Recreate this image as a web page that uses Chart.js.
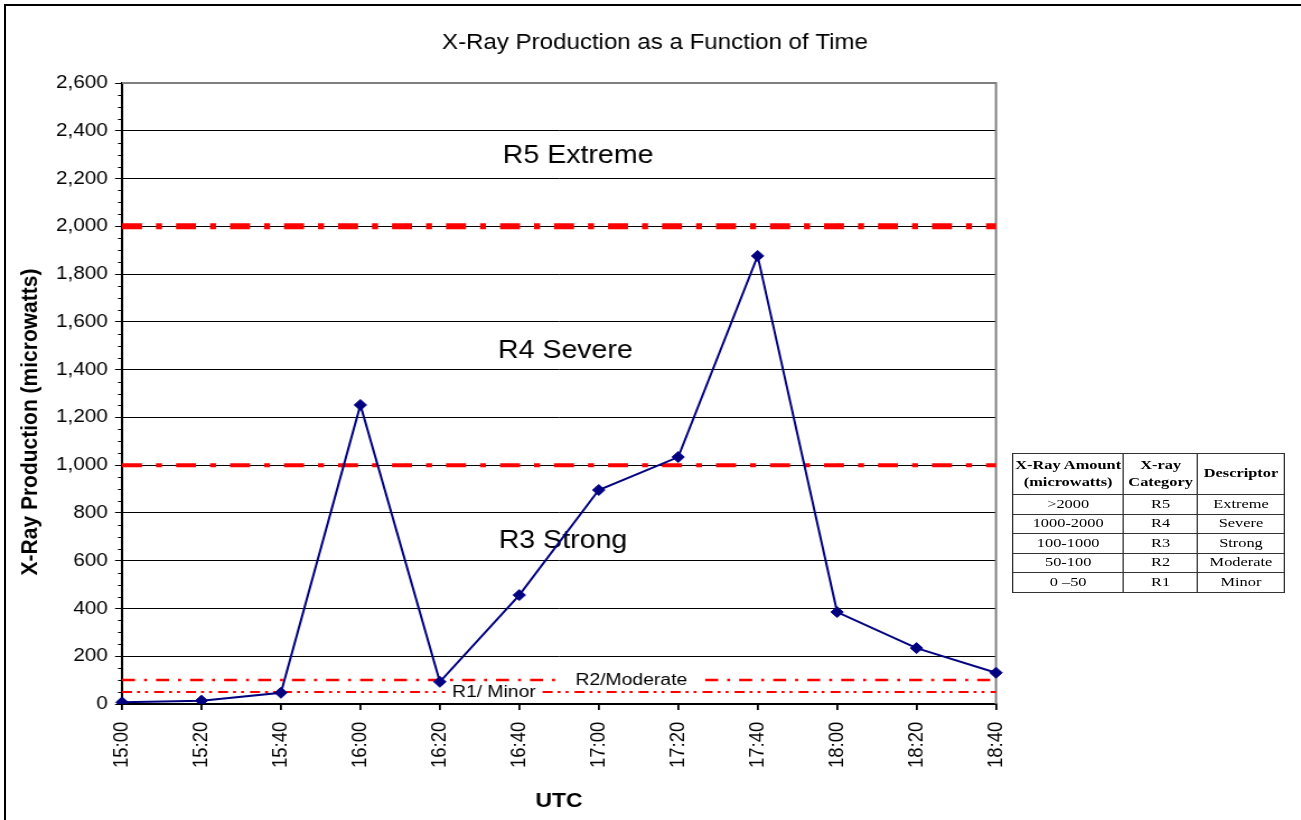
<!DOCTYPE html>
<html>
<head>
<meta charset="utf-8">
<script src="https://cdn.jsdelivr.net/npm/chart.js@4.4.1/dist/chart.umd.min.js"></script>
<style>
  html, body { margin: 0; padding: 0; background: #fff; }
  body { width: 1301px; height: 820px; overflow: hidden; position: relative; }
  #frame { position: absolute; left: 4px; top: 4px; width: 1300px; height: 820px;
           border-top: 2px solid #000; border-left: 2px solid #000; }
  /* the original picture is stretched sideways, so the chart is drawn narrow and widened */
  #stage { position: absolute; left: 0; top: 0; width: 1162px; height: 820px;
           transform-origin: 0 0; transform: scaleX(1.1196); }
  #chart { position: absolute; left: 0; top: 0; }
  #rtable { position: absolute; left: 1012px; top: 453px; width: 209px; table-layout: fixed;
            border-collapse: collapse; transform-origin: 0 0; transform: scaleX(1.3);
            font-family: 'Liberation Serif', 'Times New Roman', serif; font-size: 12.6px; color: #000; }
  #rtable td, #rtable th { border: 1px solid #333; text-align: center; padding: 0; }
  #rtable th { font-weight: bold; line-height: 17.5px; height: 40px; }
  #rtable td { height: 18.5px; line-height: 17px; }
</style>
</head>
<body>
<div id="frame"></div>
<div id="stage">
  <canvas id="chart" width="1162" height="820"></canvas>
</div>
<table id="rtable">
  <colgroup><col style="width:85.4px"><col style="width:56.9px"><col style="width:66.7px"></colgroup>
  <thead><tr id="thead"></tr></thead>
  <tbody id="tbody"></tbody>
</table>
<script>
const times = ['15:00', '15:20', '15:40', '16:00', '16:20', '16:40', '17:00', '17:20', '17:40', '18:00', '18:20', '18:40'];
const xray = [7, 14, 47, 1252, 93, 456, 896, 1034, 1876, 385, 234, 131];
const yMax = 2600;
const yStep = 200;
const yMinorStep = 50;

// R5/R4, R4/R3, R3/R2, R2/R1 boundaries
const thresholds = [2000, 1000, 100, 50];
const zoneNames = ['R5 Extreme', 'R4 Severe', 'R3 Strong'];
const lineNames = ['R2/Moderate', 'R1/ Minor'];

const tableHeaders = ['X-Ray Amount<br>(microwatts)', 'X-ray<br>Category', 'Descriptor'];
const tableAmounts = ['>2000', '1000-2000', '100-1000', '50-100', '0 \u201350'];
const tableCategories = ['R5', 'R4', 'R3', 'R2', 'R1'];
const tableDescriptors = ['Extreme', 'Severe', 'Strong', 'Moderate', 'Minor'];

const S = 1301 / 1162;
const sans = "'Liberation Sans', Arial, Helvetica, sans-serif";

// table
document.getElementById('thead').innerHTML = tableHeaders.map(h => '<th>' + h + '</th>').join('');
document.getElementById('tbody').innerHTML = tableAmounts.map((a, i) =>
  '<tr><td>' + a.replace('>', '&gt;') + '</td><td>' + tableCategories[i] + '</td><td>' + tableDescriptors[i] + '</td></tr>'
).join('');

// red threshold lines, zone names and titles
const redStyles = [
  { w: 6, dash: [20, 14, 6, 14] },
  { w: 4, dash: [20, 14, 6, 14] },
  { w: 2.5, dash: [13, 9, 3, 9] },
  { w: 2, dash: [10, 5, 3, 5, 3, 6] }
];
const zonePos = [{ at: 5.74, v: 2295 }, { at: 5.58, v: 1478 }, { at: 5.55, v: 683 }];
const linePos = [{ at: 6.41, pad: 16 }, { at: 4.68, pad: 6 }];

const overlay = {
  id: 'overlay',
  beforeDatasetsDraw(chart) {
    const { ctx, chartArea: a, scales: { x, y } } = chart;
    ctx.save();
    // grey plot border on top and right
    ctx.strokeStyle = '#808080';
    ctx.lineWidth = 2;
    ctx.beginPath();
    ctx.moveTo(a.left, a.top);
    ctx.lineTo(a.right, a.top);
    ctx.lineTo(a.right, a.bottom);
    ctx.stroke();

    ctx.font = '17.3px ' + sans;
    thresholds.forEach((t, i) => {
      const st = redStyles[i];
      const py = y.getPixelForValue(t);
      let segs = [[a.left, a.right]];
      if (i >= 2) {
        const lp = linePos[i - 2];
        const cx = x.getPixelForValue(lp.at);
        const w = ctx.measureText(lineNames[i - 2]).width;
        segs = [[a.left, cx - w / 2 - lp.pad], [cx + w / 2 + lp.pad, a.right]];
      }
      ctx.strokeStyle = '#ff0000';
      ctx.lineWidth = st.w;
      ctx.setLineDash(st.dash.map(d => d / S));
      segs.forEach(([x0, x1]) => {
        ctx.beginPath();
        ctx.moveTo(x0, py);
        ctx.lineTo(x1, py);
        ctx.stroke();
      });
    });
    ctx.setLineDash([]);

    ctx.fillStyle = '#000';
    ctx.textAlign = 'center';
    ctx.textBaseline = 'middle';
    ctx.font = '25.5px ' + sans;
    zoneNames.forEach((n, i) => {
      ctx.fillText(n, x.getPixelForValue(zonePos[i].at), y.getPixelForValue(zonePos[i].v));
    });
    ctx.font = '17.3px ' + sans;
    lineNames.forEach((n, i) => {
      ctx.fillText(n, x.getPixelForValue(linePos[i].at), y.getPixelForValue(thresholds[i + 2]));
    });
    ctx.restore();
  },
  afterDraw(chart) {
    const { ctx, chartArea: a, scales: { y } } = chart;
    ctx.save();
    // minor ticks on the value axis
    ctx.strokeStyle = '#000';
    ctx.lineWidth = 1;
    for (let v = yMinorStep; v < yMax; v += yMinorStep) {
      if (v % yStep === 0) continue;
      const py = Math.round(y.getPixelForValue(v)) + 0.5;
      ctx.beginPath();
      ctx.moveTo(a.left - 3.6, py);
      ctx.lineTo(a.left, py);
      ctx.stroke();
    }
    // chart title
    ctx.fillStyle = '#000';
    ctx.textAlign = 'center';
    ctx.textBaseline = 'middle';
    ctx.font = '21.5px ' + sans;
    ctx.fillText('X-Ray Production as a Function of Time', 585, 43);
    // value axis title
    ctx.translate(26.8, 422);
    ctx.rotate(-Math.PI / 2);
    ctx.font = 'bold 21px ' + sans;
    ctx.fillText('X-Ray Production (microwatts)', 0, 0);
    ctx.restore();
  }
};

new Chart(document.getElementById('chart'), {
  type: 'line',
  data: {
    labels: times,
    datasets: [{
      data: xray,
      borderColor: '#000080',
      backgroundColor: '#000080',
      borderWidth: 2,
      pointStyle: 'rectRot',
      pointRadius: 5.5,
      pointBorderWidth: 1,
      pointBackgroundColor: '#000080',
      tension: 0,
      fill: false
    }]
  },
  options: {
    responsive: false,
    animation: false,
    devicePixelRatio: 1,
    layout: { padding: { left: 8, top: 83, right: 272.4, bottom: 0 } },
    plugins: {
      legend: { display: false },
      title: { display: false },
      tooltip: { enabled: false }
    },
    scales: {
      x: {
        offset: false,
        grid: { drawOnChartArea: false, drawTicks: true, tickLength: 6, color: '#000', lineWidth: 1.8 },
        border: { color: '#000', width: 2 },
        ticks: { color: '#000', font: { family: sans, size: 18.5 }, minRotation: 90, maxRotation: 90, padding: 11.7, autoSkip: false },
        title: { display: true, text: 'UTC', color: '#000', font: { family: sans, size: 20.5, weight: 'bold' }, padding: { top: 0, bottom: 6 } },
        afterFit: s => { s.height = 116; }
      },
      y: {
        min: 0,
        max: yMax,
        ticks: {
          stepSize: yStep,
          color: '#000',
          font: { family: sans, size: 18.5 },
          padding: 6.5,
          callback: v => String(v).replace(/\B(?=(\d{3})+(?!\d))/g, ',')
        },
        grid: {
          color: c => (c.tick && c.tick.value === yMax) ? 'rgba(0,0,0,0)' : '#000',
          tickColor: '#000',
          lineWidth: 1,
          tickLength: 6.25
        },
        border: { color: '#000', width: 2 },
        afterFit: s => { s.width = 101; }
      }
    }
  },
  plugins: [overlay]
});
</script>
</body>
</html>
